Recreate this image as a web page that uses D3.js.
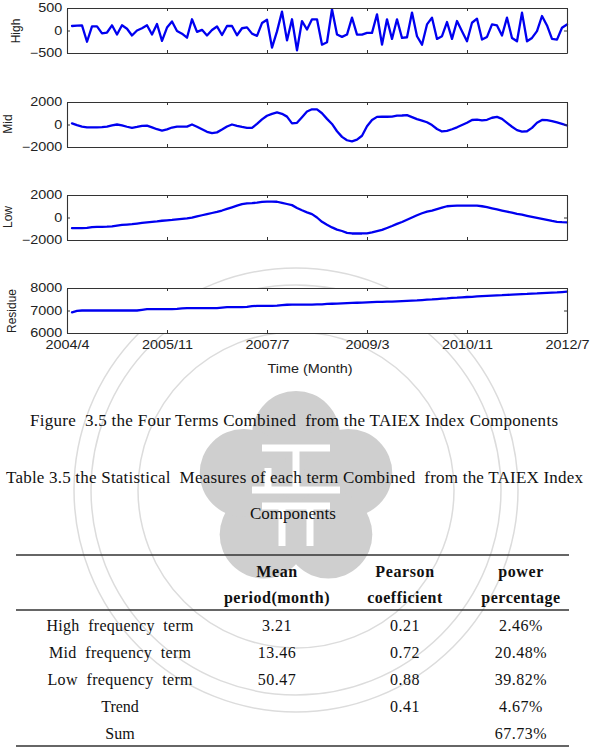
<!DOCTYPE html>
<html><head><meta charset="utf-8">
<script src="https://cdn.jsdelivr.net/npm/d3@7"></script>
<style>
body{margin:0;background:#fff}
svg{display:block}
</style></head>
<body>
<svg id="chart" width="591" height="747"></svg>
<script>
// ---------------- data ----------------
const months = d3.range(1, 101);
const xTickValues = [0, 20, 40, 60, 80, 100];
const xTickLabels = ["2004/4", "2005/11", "2007/7", "2009/3", "2010/11", "2012/7"];

const high = [100,108,115,-250,90,90,-65,-45,115,-90,
  115,40,-110,0,50,115,-90,145,-230,65,
  200,-10,-70,-160,250,-30,15,-110,10,90,
  -100,100,100,-105,50,70,-70,-120,165,240,
  -380,-20,420,-220,250,-440,210,22,248,248,
  -315,-262,472,-90,-142,-90,285,-90,-90,-52,
  -52,360,-315,248,-187,248,-165,-150,398,-127,
  -315,135,285,-187,-127,188,-187,210,-15,-240,
  172,262,-202,-142,135,112,-112,285,-165,-240,
  398,-240,-165,-15,322,112,-187,-202,60,135];

const mid = [100,-60,-180,-250,-260,-260,-240,-180,-80,0,
  -80,-200,-300,-220,-120,-100,-250,-420,-540,-430,
  -270,-190,-180,-185,0,-200,-420,-650,-760,-700,
  -450,-180,0,-120,-220,-300,-300,50,450,780,
  950,1080,950,700,100,150,650,1150,1350,1340,
  1000,500,50,-600,-1100,-1400,-1500,-1350,-1000,-150,
  400,680,700,690,700,780,800,830,650,480,
  350,200,-50,-400,-620,-560,-420,-250,-50,150,
  400,430,370,420,600,680,500,150,-200,-500,
  -630,-600,-300,150,400,380,300,180,50,-90];

const low = [-950,-950,-950,-930,-850,-830,-830,-820,-780,-720,
  -660,-630,-590,-540,-480,-430,-380,-340,-290,-250,
  -210,-160,-120,-80,-20,100,200,300,400,500,
  620,760,900,1050,1180,1260,1280,1320,1380,1420,
  1420,1400,1300,1200,1100,850,640,460,300,0,
  -380,-650,-880,-1080,-1200,-1360,-1420,-1420,-1420,-1410,
  -1330,-1220,-1100,-930,-760,-570,-400,-200,0,200,
  380,520,620,750,880,1000,1040,1060,1060,1060,
  1060,1050,1000,920,820,720,620,520,430,330,
  250,150,50,-40,-130,-220,-310,-380,-410,-430];

const residue = [6920,6980,7000,7000,7000,7000,7000,7000,7000,7000,
  7000,7000,7000,7000,7030,7060,7060,7060,7060,7060,
  7060,7070,7090,7105,7105,7105,7105,7105,7110,7110,
  7130,7150,7150,7150,7150,7160,7190,7210,7210,7210,
  7210,7220,7240,7255,7260,7260,7260,7265,7265,7270,
  7270,7290,7300,7310,7320,7330,7340,7345,7350,7360,
  7370,7380,7385,7390,7395,7410,7420,7430,7440,7450,
  7465,7480,7490,7510,7525,7540,7560,7570,7585,7600,
  7610,7625,7640,7650,7660,7670,7680,7695,7705,7715,
  7725,7735,7750,7760,7775,7785,7795,7805,7820,7835];

const panelNames = ["High", "Mid", "Low", "Residue"];
const panelSeries = [high, mid, low, residue];
const panelDomains = [[-500, 500], [-2000, 2000], [-2000, 2000], [6000, 8000]];
const panelTicks = [[-500, 0, 500], [-2000, 0, 2000], [-2000, 0, 2000], [6000, 7000, 8000]];
const xAxisTitle = "Time (Month)";

const captionText = "Figure  3.5 the Four Terms Combined  from the TAIEX Index Components";
const tableTitle1 = "Table 3.5 the Statistical  Measures of each term Combined  from the TAIEX Index";
const tableTitle2 = "Components";
const tableHeader1 = ["", "Mean", "Pearson", "power"];
const tableHeader2 = ["", "period(month)", "coefficient", "percentage"];
const rowLabels = ["High  frequency  term", "Mid  frequency  term", "Low  frequency  term", "Trend", "Sum"];
const meanPeriod = ["3.21", "13.46", "50.47", "", ""];
const pearson = ["0.21", "0.72", "0.88", "0.41", ""];
const powerPct = ["2.46%", "20.48%", "39.82%", "4.67%", "67.73%"];

// ---------------- layout ----------------
const svg = d3.select("#chart");
const sans = "'Liberation Sans', Arial, Helvetica, sans-serif";
const serif = "'Liberation Serif', 'Times New Roman', Times, serif";
const plotLeft = 67, plotRight = 567, panelH = 45;
const panelTops = [8, 102, 195, 288];
const labelPos = [[16, 31], [8, 124], [8, 217], [12, 311]];
const axisColor = "#333";
const lineColor = "#0000f0";
const SX = 1.2;

// ---------------- watermark (background seal) ----------------
const wm = svg.append("g").attr("class", "watermark");
const cx = 296, cy = 490;
[222, 205, 158].forEach(r => {
  wm.append("circle").attr("cx", cx).attr("cy", cy).attr("r", r)
    .attr("fill", "none").attr("stroke", "#dcdcdc").attr("stroke-width", 1.5);
});
const petals = d3.range(5).map(k => {
  const a = (-90 + 72 * k) * Math.PI / 180;
  return [cx + 55 * Math.cos(a), cy + 55 * Math.sin(a)];
});
const blossom = wm.append("g").attr("fill", "#cfcfcf");
blossom.append("circle").attr("cx", cx).attr("cy", cy).attr("r", 62);
petals.forEach(p => blossom.append("circle").attr("cx", p[0]).attr("cy", p[1]).attr("r", 44));
const glyph = wm.append("g").attr("stroke", "#fff").attr("stroke-width", 7).attr("fill", "none");
[[262,448,330,448],[296,448,296,490],[268,468,268,490],[252,490,340,490],
 [262,506,330,506],[282,506,282,546],[310,506,310,546]].forEach(s => {
  glyph.append("line").attr("x1", s[0]).attr("y1", s[1]).attr("x2", s[2]).attr("y2", s[3]);
});

// ---------------- panels ----------------
const x = d3.scaleLinear().domain([0, 100]).range([plotLeft, plotRight]);

panelNames.forEach((name, i) => {
  const top = panelTops[i], bottom = top + panelH;
  const y = d3.scaleLinear().domain(panelDomains[i]).range([bottom, top]);
  const g = svg.append("g");
  g.append("rect").attr("x", plotLeft).attr("y", top)
    .attr("width", plotRight - plotLeft).attr("height", panelH).attr("fill", "#fff");

  const isLast = i === panelNames.length - 1;
  const axB = d3.axisBottom(x).tickValues(xTickValues).tickSize(-3).tickSizeOuter(0).tickPadding(7)
    .tickFormat((d, j) => isLast ? xTickLabels[j] : "");
  const axT = d3.axisTop(x).tickValues(xTickValues).tickSize(-3).tickSizeOuter(0).tickFormat("");
  const axL = d3.axisLeft(y).tickValues(panelTicks[i]).tickSize(-3).tickSizeOuter(0).tickPadding(4)
    .tickFormat(d3.format("d"));
  const axR = d3.axisRight(y).tickValues(panelTicks[i]).tickSize(-3).tickSizeOuter(0).tickFormat("");

  const line = d3.line().x((d, j) => x(months[j])).y(d => y(d));
  g.append("path").datum(panelSeries[i]).attr("d", line)
    .attr("fill", "none").attr("stroke", lineColor).attr("stroke-width", 2.3)
    .attr("stroke-linejoin", "round").attr("stroke-linecap", "round");

  const axes = [
    g.append("g").attr("transform", `translate(0,${bottom})`).call(axB),
    g.append("g").attr("transform", `translate(0,${top})`).call(axT),
    g.append("g").attr("transform", `translate(${plotLeft},0)`).call(axL),
    g.append("g").attr("transform", `translate(${plotRight},0)`).call(axR)
  ];
  axes.forEach(a => {
    a.selectAll("path.domain").attr("stroke", axisColor).attr("stroke-width", 1.1);
    a.selectAll(".tick line").attr("stroke", axisColor).attr("stroke-width", 1);
    a.selectAll("text").filter(function () { return this.textContent === ""; }).remove();
    a.selectAll("text").attr("font-family", sans).attr("font-size", 12).attr("fill", "#222")
      .attr("transform", `scale(${SX},1)`);
  });

  svg.append("text").attr("transform", `translate(${labelPos[i][0]},${labelPos[i][1]}) rotate(-90)`)
    .attr("text-anchor", "middle").attr("dominant-baseline", "central")
    .attr("font-family", sans).attr("font-size", 12).attr("fill", "#222").text(name);
});

svg.append("text").attr("transform", `translate(310,373) scale(${SX},1)`)
  .attr("text-anchor", "middle").attr("font-family", sans).attr("font-size", 12)
  .attr("fill", "#222").text(xAxisTitle);

// ---------------- caption & table ----------------
function txt(str, xx, yy, opt = {}) {
  const t = svg.append("text").attr("x", xx).attr("y", yy)
    .attr("font-family", serif).attr("font-size", opt.size || 16)
    .attr("fill", "#111").attr("text-anchor", opt.anchor || "middle")
    .style("white-space", "pre").text(str);
  if (opt.bold) t.attr("font-weight", "bold");
  if (opt.ls) t.attr("letter-spacing", opt.ls);
  if (opt.len) t.attr("textLength", opt.len).attr("lengthAdjust", "spacing");
  return t;
}
txt(captionText, 30, 426, {size: 17, anchor: "start", len: 528});
txt(tableTitle1, 6, 483, {size: 17, anchor: "start", len: 577});
txt(tableTitle2, 293, 519, {size: 17});

[555, 610, 746].forEach(yy => {
  svg.append("line").attr("x1", 16).attr("x2", 569).attr("y1", yy).attr("y2", yy)
    .attr("stroke", "#333").attr("stroke-width", 1.5);
});
const colX = [120, 277, 405, 521];
tableHeader1.forEach((h, j) => { if (h) txt(h, colX[j], 577, {bold: true, ls: 0.6}); });
tableHeader2.forEach((h, j) => { if (h) txt(h, colX[j], 603, {bold: true, ls: 0.5}); });
const rowBase = [631, 658, 685, 712, 739];
const rowLens = [147, 142, 145, 0, 0];
rowLabels.forEach((r, k) => {
  const o = rowLens[k] ? {len: rowLens[k]} : {};
  txt(r, colX[0], rowBase[k], o);
  if (meanPeriod[k]) txt(meanPeriod[k], colX[1], rowBase[k], {ls: 0.5});
  if (pearson[k]) txt(pearson[k], colX[2], rowBase[k], {ls: 0.5});
  if (powerPct[k]) txt(powerPct[k], colX[3], rowBase[k], {ls: 0.5});
});
</script>
</body></html>
